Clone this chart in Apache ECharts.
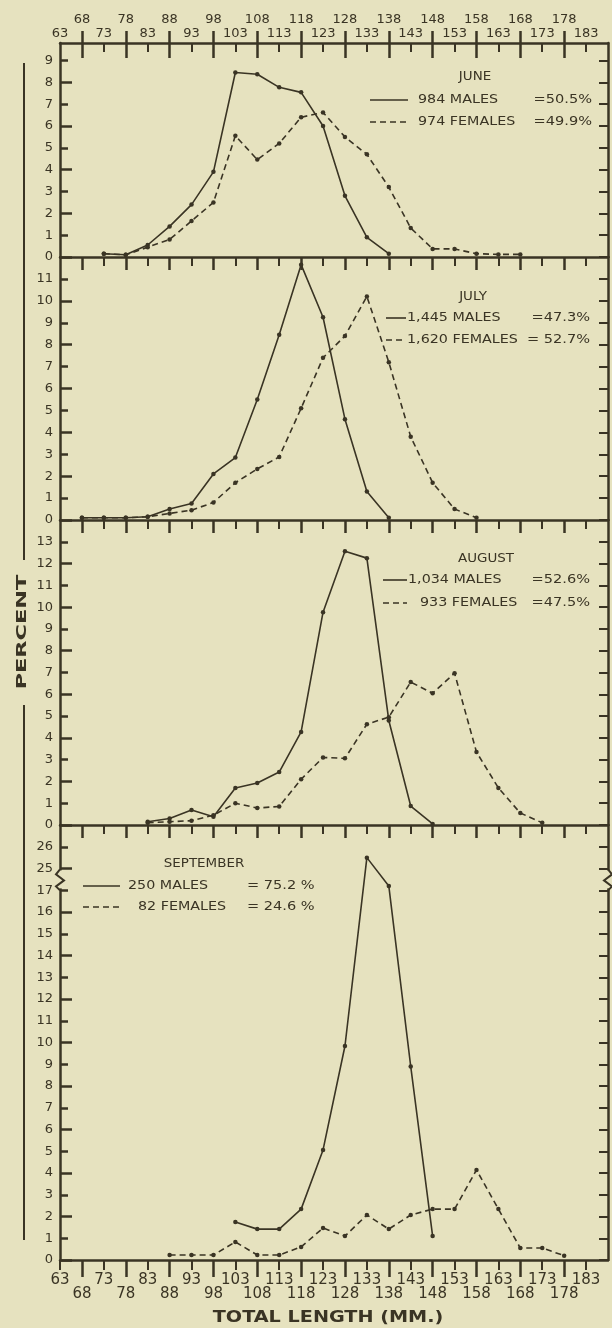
<!DOCTYPE html>
<html><head><meta charset="utf-8">
<script src="https://cdn.jsdelivr.net/npm/echarts@6/dist/echarts.min.js"></script>
<style>html,body{margin:0;padding:0;background:#e6e2bf;}#c{width:612px;height:1328px;}</style>
</head><body><div id="c"></div>
<script>
// ---------- DATA ----------
const lengths = ['63','68','73','78','83','88','93','98','103','108','113','118','123','128','133','138','143','148','153','158','163','168','173','178','183','188'];
//                63   68   73   78   83   88   93   98   103  108  113  118  123   128   133   138   143  148  153  158  163  168  173  178  183  188
const juneMales   = [null,null,0.15,0.1,0.55,1.4,2.4,3.9,8.45,8.37,7.77,7.54,6.0,2.8,0.9,0.15,null,null,null,null,null,null,null,null,null,null];
const juneFemales = [null,null,0.15,0.1,0.45,0.8,1.65,2.5,5.55,4.46,5.2,6.4,6.62,5.5,4.7,3.2,1.33,0.37,0.37,0.15,0.12,0.12,null,null,null,null];
const julyMales   = [null,0.1,0.1,0.1,0.15,0.5,0.75,2.1,2.85,5.5,8.45,11.65,9.25,4.6,1.3,0.1,null,null,null,null,null,null,null,null,null,null];
const julyFemales = [null,0.1,0.1,0.1,0.15,0.3,0.45,0.8,1.7,2.33,2.88,5.1,7.4,8.4,10.2,7.2,3.8,1.7,0.5,0.1,null,null,null,null,null,null];
const augMales    = [null,null,null,null,0.15,0.3,0.69,0.38,1.7,1.93,2.43,4.27,9.77,12.57,12.25,4.8,0.87,0.05,null,null,null,null,null,null,null,null];
const augFemales  = [null,null,null,null,0.1,0.15,0.2,0.45,1.0,0.78,0.85,2.1,3.1,3.06,4.63,4.95,6.56,6.05,6.97,3.35,1.7,0.55,0.1,null,null,null];
const septMales   = [null,null,null,null,null,null,null,null,1.75,1.42,1.42,2.34,5.06,9.84,25.5,17.2,8.9,1.1,null,null,null,null,null,null,null,null];
const septFemales = [null,null,null,null,null,0.23,0.23,0.23,0.83,0.23,0.23,0.6,1.47,1.1,2.07,1.42,2.07,2.34,2.34,4.14,2.34,0.55,0.55,0.2,null,null];

const juneTicks = [0,1,2,3,4,5,6,7,8,9];
const julyTicks = [0,1,2,3,4,5,6,7,8,9,10,11];
const augTicks  = [0,1,2,3,4,5,6,7,8,9,10,11,12,13];
const septTicks = [0,1,2,3,4,5,6,7,8,9,10,11,12,13,14,15,16,17,25,26];
const yMax = [9.8, 12, 14, 27];   // top of each panel (September in real units, broken axis)

const monthLabels  = ['JUNE','JULY','AUGUST','SEPTEMBER'];
const maleLabels   = ['984 MALES','1,445 MALES','1,034 MALES','250 MALES'];
const femaleLabels = ['974 FEMALES','1,620 FEMALES','933 FEMALES','82 FEMALES'];
const malePct      = ['=50.5%','=47.3%','=52.6%','= 75.2 %'];
const femalePct    = ['=49.9%','= 52.7%','=47.5%','= 24.6 %'];
const xTitle = 'TOTAL LENGTH (MM.)';
const yTitle = 'PERCENT';

// September axis break: values 17..25 are cut out
const BREAK_FROM = 25, BREAK_SHIFT = 7;
function toAxis(p, v){ return (p === 3 && v >= BREAK_FROM) ? v - BREAK_SHIFT : v; }
function fromAxis(p, a){ return (p === 3 && a > 17.5) ? a + BREAK_SHIFT : a; }

// ---------- STYLE / LAYOUT ----------
const INK = '#3a3424', BG = '#e6e2bf', FONT = 'DejaVu Sans';
const tops = [43, 257, 520, 825];
const heights = [214, 263, 305, 435];
const LEFT = 60, RIGHT = 4;

const panels = [
  [juneMales, juneFemales, juneTicks],
  [julyMales, julyFemales, julyTicks],
  [augMales, augFemales, augTicks],
  [septMales, septFemales, septTicks]
];

const grids = [], xAxes = [], yAxes = [], series = [];
const lbl = {fontFamily: FONT, fontSize: 13, color: INK};

panels.forEach(([males, females, ticks], p) => {
  grids.push({left: LEFT, right: RIGHT, top: tops[p], height: heights[p], containLabel: false});
  const baseX = {type: 'category', data: lengths, boundaryGap: false, gridIndex: p,
    axisPointer: {show: false}, splitLine: {show: false}};
  const xMain = xAxes.length;
  // top border: long ticks at 68, 78, ...
  xAxes.push(Object.assign({}, baseX, {position: 'top',
    axisLine: {show: true, onZero: false, lineStyle: {color: INK, width: 2.5}},
    axisTick: {show: true, inside: true, length: p === 0 ? 15 : 13, interval: (i) => i % 2 === 1 && i < 25, lineStyle: {color: INK, width: 2.5}},
    axisLabel: p === 0 ? Object.assign({show: true, margin: 17, interval: (i) => i % 2 === 1 && i < 25}, lbl) : {show: false}}));
  // top border: short ticks at 73, 83, ...
  xAxes.push(Object.assign({}, baseX, {position: 'top',
    axisLine: {show: false, onZero: false},
    axisTick: {show: true, inside: true, length: 9, interval: (i) => i % 2 === 0 && i > 0 && i < 25, lineStyle: {color: INK, width: 2}},
    axisLabel: p === 0 ? Object.assign({show: true, margin: 3, interval: (i) => i % 2 === 0 && i < 25}, lbl) : {show: false}}));
  if (p === 0) {
    xAxes.push(Object.assign({}, baseX, {position: 'top',
      axisLine: {show: false, onZero: false},
      axisTick: {show: true, inside: false, length: 12, interval: (i) => i % 2 === 1 && i < 25, lineStyle: {color: INK, width: 2.5}},
      axisLabel: {show: false}}));
  }
  if (p === 3) {
    const blbl = {fontFamily: FONT, fontSize: 15, color: INK};
    xAxes.push(Object.assign({}, baseX, {position: 'bottom',
      axisLine: {show: true, onZero: false, lineStyle: {color: INK, width: 2.5}},
      axisTick: {show: true, inside: false, length: 17, interval: (i) => i % 2 === 1 && i < 25, lineStyle: {color: INK, width: 2.5}},
      axisLabel: Object.assign({show: true, margin: 27, interval: (i) => i % 2 === 1 && i < 25}, blbl)}));
    xAxes.push(Object.assign({}, baseX, {position: 'bottom',
      axisLine: {show: false, onZero: false},
      axisTick: {show: true, inside: false, length: 10, interval: (i) => i % 2 === 0 && i < 25, lineStyle: {color: INK, width: 2}},
      axisLabel: Object.assign({show: true, margin: 13, interval: (i) => i % 2 === 0 && i < 25}, blbl)}));
  }
  const axisTicks = ticks.map(v => toAxis(p, v));
  const top = toAxis(p, yMax[p]);
  const yMain = yAxes.length;
  yAxes.push({type: 'value', gridIndex: p, position: 'left', min: 0, max: top,
    axisLine: {show: true, onZero: false, lineStyle: {color: INK, width: 2.5}},
    axisTick: {show: true, inside: true, length: 12, customValues: axisTicks.filter((v, k) => k % 2 === 0), lineStyle: {color: INK, width: 2.5}},
    axisLabel: Object.assign({show: true, margin: 7, customValues: axisTicks, formatter: (a) => String(Math.round(fromAxis(p, a)))}, lbl),
    splitLine: {show: false}});
  yAxes.push({type: 'value', gridIndex: p, position: 'left', min: 0, max: top,
    axisLine: {show: false, onZero: false},
    axisTick: {show: true, inside: true, length: 8, customValues: axisTicks.filter((v, k) => k % 2 === 1), lineStyle: {color: INK, width: 2.5}},
    axisLabel: {show: false}, splitLine: {show: false}});
  yAxes.push({type: 'value', gridIndex: p, position: 'right', min: 0, max: top,
    axisLine: {show: true, onZero: false, lineStyle: {color: INK, width: 2.5}},
    axisTick: {show: true, inside: true, length: 9, customValues: axisTicks, lineStyle: {color: INK, width: 2}},
    axisLabel: {show: false}, splitLine: {show: false}});

  [[males, false], [females, true]].forEach(([arr, fem]) => {
    series.push({type: 'line', xAxisIndex: xMain, yAxisIndex: yMain,
      data: arr.map(v => v == null ? '-' : toAxis(p, v)),
      connectNulls: false, symbol: 'circle', symbolSize: 4.5, showSymbol: true,
      lineStyle: {color: INK, width: 1.6, type: fem ? [6, 4] : 'solid'},
      itemStyle: {color: INK}, silent: true, animation: false, z: 3});
  });
});

// ---------- LEGENDS & TITLES (graphic) ----------
const legendLayout = [
  {titleX: 475, titleY: 77,  rowY: [100, 122], lineX: [370, 408], nameX: [418, 418], pctX: 592, pctAlign: 'right'},
  {titleX: 473, titleY: 297, rowY: [318, 340], lineX: [386, 406], nameX: [407, 407], pctX: 590, pctAlign: 'right'},
  {titleX: 486, titleY: 559, rowY: [580, 603], lineX: [383, 407], nameX: [408, 420], pctX: 590, pctAlign: 'right'},
  {titleX: 204, titleY: 864, rowY: [886, 907], lineX: [83, 120],  nameX: [128, 138], pctX: 247, pctAlign: 'left'}
];
function txt(x, y, text, align, size, bold, sx) {
  return {type: 'text', x: x, y: y, scaleX: sx || 1, silent: true, z: 10,
    style: {text: text, fill: INK, font: (bold ? 'bold ' : '') + size + 'px "' + FONT + '"',
      align: align, verticalAlign: 'middle', textAlign: align, textVerticalAlign: 'middle'}};
}
const graphics = [];
legendLayout.forEach((L, p) => {
  graphics.push(txt(L.titleX, L.titleY, monthLabels[p], 'center', 12, false, 1.12));
  [0, 1].forEach(r => {
    graphics.push({type: 'line', silent: true, z: 10,
      shape: {x1: L.lineX[0], y1: L.rowY[r], x2: L.lineX[1], y2: L.rowY[r]},
      style: {stroke: INK, lineWidth: 1.6, lineDash: r === 1 ? [6, 4] : null}});
    graphics.push(txt(L.nameX[r], L.rowY[r], r === 0 ? maleLabels[p] : femaleLabels[p], 'left', 13, false, 1.1));
    graphics.push(txt(L.pctX, L.rowY[r], r === 0 ? malePct[p] : femalePct[p], L.pctAlign, 13, false, 1.12));
  });
});
graphics.push(txt(328, 1318, xTitle, 'center', 16, true, 1.2));
graphics.push({type: 'text', x: 22, y: 632, rotation: Math.PI / 2, scaleX: 1.6, silent: true, z: 10,
  style: {text: yTitle, fill: INK, font: 'bold 14px "' + FONT + '"', align: 'center', verticalAlign: 'middle', textAlign: 'center', textVerticalAlign: 'middle'}});
graphics.push({type: 'line', silent: true, shape: {x1: 24, y1: 63, x2: 24, y2: 560}, style: {stroke: INK, lineWidth: 2}});
graphics.push({type: 'line', silent: true, shape: {x1: 24, y1: 705, x2: 24, y2: 1240}, style: {stroke: INK, lineWidth: 2}});

const chart = echarts.init(document.getElementById('c'), null, {renderer: 'canvas'});
chart.setOption({backgroundColor: BG, animation: false, grid: grids, xAxis: xAxes, yAxis: yAxes, series: series, graphic: graphics});

// axis-break zigzags on September panel
const yb = chart.convertToPixel({yAxisIndex: yAxes.length - 3}, 17.5);
const breakMarks = [];
[LEFT, 612 - RIGHT].forEach((bx, k) => {
  const s = k === 0 ? 1 : -1;
  breakMarks.push({type: 'rect', silent: true, z: 20, shape: {x: bx - 3, y: yb - 9, width: 6, height: 18}, style: {fill: BG}});
  breakMarks.push({type: 'polyline', silent: true, z: 21,
    shape: {points: [[bx, yb - 10], [bx - 4 * s, yb - 5], [bx + 4 * s, yb + 1], [bx - 4 * s, yb + 7], [bx, yb + 11]]},
    style: {stroke: INK, lineWidth: 2, fill: null}});
});
chart.setOption({graphic: graphics.concat(breakMarks)});
</script></body></html>
